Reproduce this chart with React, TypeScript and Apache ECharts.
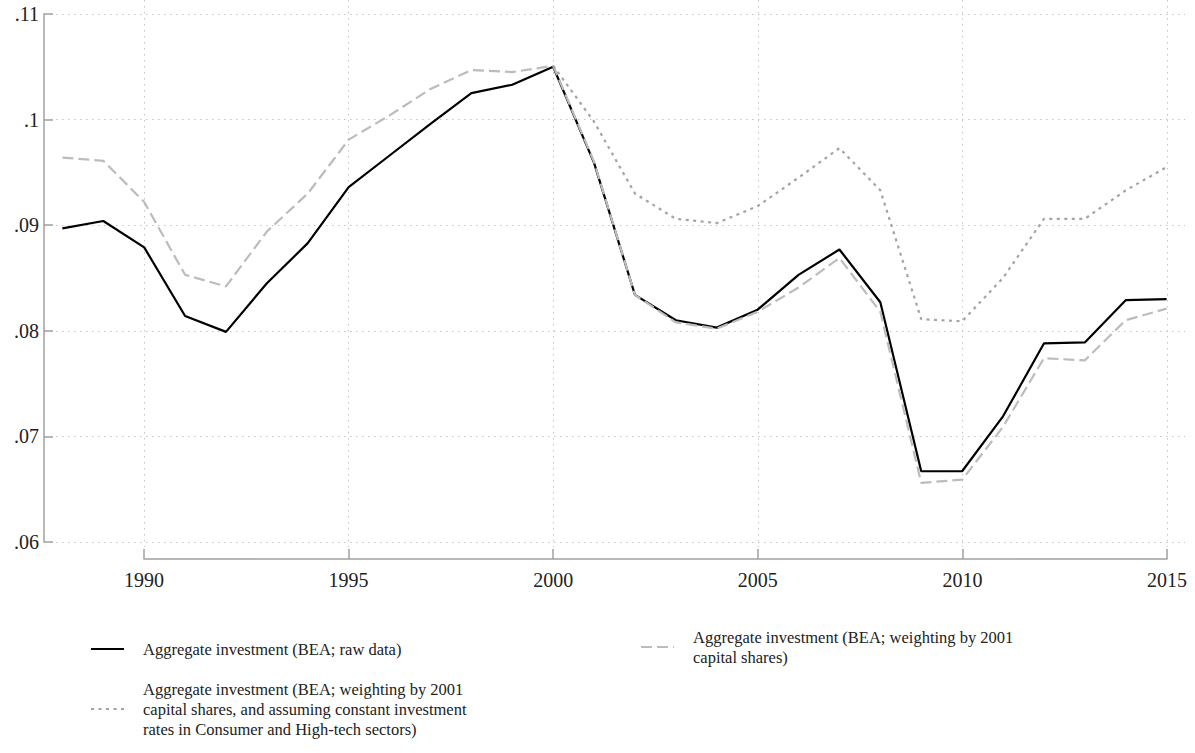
import React, { useEffect, useRef } from "react";
import * as echarts from "echarts";

const years = [1988, 1989, 1990, 1991, 1992, 1993, 1994, 1995, 1996, 1997, 1998, 1999, 2000, 2001, 2002, 2003, 2004, 2005, 2006, 2007, 2008, 2009, 2010, 2011, 2012, 2013, 2014, 2015];

const rawData = [0.0897, 0.0904, 0.0879, 0.0814, 0.0799, 0.0845, 0.0883, 0.0936, 0.0966, 0.0996, 0.1025, 0.1033, 0.1050, 0.0959, 0.0834, 0.0810, 0.0803, 0.0820, 0.0853, 0.0877, 0.0827, 0.0667, 0.0667, 0.0719, 0.0788, 0.0789, 0.0829, 0.0830];

const weighted2001 = [0.0964, 0.0961, 0.0922, 0.0853, 0.0842, 0.0894, 0.0930, 0.0981, 0.1004, 0.1029, 0.1047, 0.1045, 0.1051, 0.0960, 0.0834, 0.0808, 0.0802, 0.0818, 0.0841, 0.0869, 0.0818, 0.0656, 0.0659, 0.0709, 0.0774, 0.0772, 0.0810, 0.0821];

const constantRates = [null, null, null, null, null, null, null, null, null, null, null, null, 0.1051, 0.0998, 0.0930, 0.0906, 0.0902, 0.0918, 0.0945, 0.0973, 0.0933, 0.0811, 0.0809, 0.0850, 0.0906, 0.0906, 0.0933, 0.0955];

const yTicks = { min: 0.06, max: 0.11, step: 0.01 };
const xTicks = { min: 1990, max: 2015, step: 5 };

const seriesNames = [
  "Aggregate investment (BEA; raw data)",
  "Aggregate investment (BEA; weighting by 2001 capital shares)",
  "Aggregate investment (BEA; weighting by 2001 capital shares, and assuming constant investment rates in Consumer and High-tech sectors)",
];
const legendTexts = [
  "Aggregate investment (BEA; raw data)",
  "Aggregate investment (BEA; weighting by 2001\ncapital shares)",
  "Aggregate investment (BEA; weighting by 2001\ncapital shares, and assuming constant investment\nrates in Consumer and High-tech sectors)",
];

const FONT = "'Liberation Serif', 'DejaVu Serif', serif";

export default function App() {
  const ref = useRef<HTMLDivElement>(null);
  useEffect(() => {
    if (!ref.current) return;
    const chart = echarts.init(ref.current, undefined, { renderer: "svg" });
    const pairs = (arr: (number | null)[]) => years.map((y, i) => [y, arr[i]]);
    const dotted = { type: [1.5, 4.5] as any, color: "#c4c4c4", width: 1 };
    const legendBase = (i: number, left: number, top: number, lh: number) => ({
      show: true,
      data: [seriesNames[i]],
      left,
      top,
      orient: "horizontal",
      itemWidth: 33,
      itemHeight: 12,
      padding: 0,
      selectedMode: false,
      itemStyle: { color: "rgba(0,0,0,0)", borderWidth: 0, opacity: 0 },
      formatter: (name: string) => legendTexts[seriesNames.indexOf(name)],
      textStyle: {
        fontFamily: FONT,
        fontSize: 16.5,
        color: "#222",
        lineHeight: lh,
        padding: [0, 0, 0, 14],
      },
    });
    chart.setOption({
      animation: false,
      backgroundColor: "#ffffff",
      textStyle: { fontFamily: FONT },
      grid: [
        { left: 44, right: 10, top: 14, bottom: 211 },
        { left: 144, right: 28, top: 0, bottom: 206 },
        { left: 144, right: 28, top: 549, bottom: 194 },
      ],
      xAxis: [
        { gridIndex: 0, type: "value", min: 1987.55, max: 2015.45, show: false },
        {
          gridIndex: 1, type: "value", min: xTicks.min, max: xTicks.max, interval: xTicks.step,
          axisLine: { show: false }, axisTick: { show: false }, axisLabel: { show: false },
          splitLine: { show: true, lineStyle: dotted },
        },
        {
          gridIndex: 2, type: "value", position: "bottom", min: xTicks.min, max: xTicks.max, interval: xTicks.step,
          axisLine: { show: true, lineStyle: { color: "#a0a0a0", width: 1.5 } },
          axisTick: { show: true, inside: true, length: 10, lineStyle: { color: "#a0a0a0", width: 1.5 } },
          axisLabel: { show: true, fontFamily: FONT, fontSize: 20, color: "#222", margin: 11, formatter: (v: number) => String(v) },
          splitLine: { show: false },
        },
      ],
      yAxis: [
        {
          gridIndex: 0, type: "value", min: yTicks.min, max: yTicks.max, interval: yTicks.step,
          axisLine: { show: true, lineStyle: { color: "#a0a0a0", width: 1.5 } },
          axisTick: { show: true, inside: true, length: 9, lineStyle: { color: "#a0a0a0", width: 1.5 } },
          axisLabel: {
            show: true, fontFamily: FONT, fontSize: 20, color: "#222", margin: 5,
            formatter: (v: number) => Number(v.toFixed(2)).toString().replace(/^0/, ""),
          },
          splitLine: { show: true, lineStyle: dotted },
        },
        { gridIndex: 1, type: "value", show: false, min: 0, max: 1 },
        { gridIndex: 2, type: "value", show: false, min: 0, max: 1 },
      ],
      legend: [
        legendBase(0, 90, 639, 20),
        legendBase(1, 640, 627, 20),
        legendBase(2, 90, 679, 20),
      ],
      series: [
        {
          name: seriesNames[0], type: "line", xAxisIndex: 0, yAxisIndex: 0,
          data: pairs(rawData), symbol: "none", connectNulls: false,
          lineStyle: { color: "#000000", width: 2.2, type: "solid" },
          itemStyle: { color: "#000000" },
        },
        {
          name: seriesNames[1], type: "line", xAxisIndex: 0, yAxisIndex: 0,
          data: pairs(weighted2001), symbol: "none",
          lineStyle: { color: "#bcbcbc", width: 2.2, type: [11, 5] },
          itemStyle: { color: "#bcbcbc" },
        },
        {
          name: seriesNames[2], type: "line", xAxisIndex: 0, yAxisIndex: 0,
          data: pairs(constantRates), symbol: "none",
          lineStyle: { color: "#a4a4a4", width: 2.2, type: [3, 4.5] },
          itemStyle: { color: "#a4a4a4" },
        },
      ],
    });
    return () => chart.dispose();
  }, []);
  return (
    <div
      ref={ref}
      style={{ position: "fixed", left: 0, top: 0, width: 1195, height: 753, background: "#fff" }}
    />
  );
}
